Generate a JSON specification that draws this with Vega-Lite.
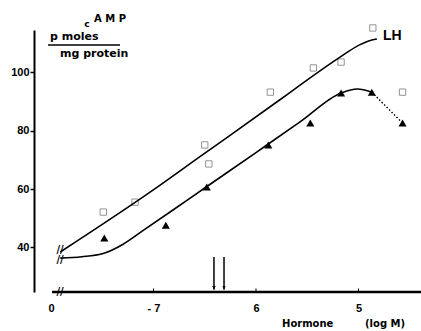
{
  "$schema": "https://vega.github.io/schema/vega-lite/v6.json",
  "width": 387,
  "height": 262,
  "autosize": {"type": "none"},
  "padding": {"left": 34, "top": 30, "right": 0, "bottom": 39},
  "background": "white",
  "config": {"view": {"stroke": null}, "font": "DejaVu Sans"},
  "datasets": {
    "lh": [
      {"logM": -7.49, "camp": 52.1},
      {"logM": -7.18, "camp": 55.5},
      {"logM": -6.50, "camp": 75.1},
      {"logM": -6.46, "camp": 68.6},
      {"logM": -5.86, "camp": 93.2},
      {"logM": -5.44, "camp": 101.5},
      {"logM": -5.17, "camp": 103.5},
      {"logM": -4.86, "camp": 115.2},
      {"logM": -4.57, "camp": 93.2}
    ],
    "tri": [
      {"logM": -7.48, "camp": 43.2},
      {"logM": -6.88, "camp": 47.6},
      {"logM": -6.48, "camp": 60.7},
      {"logM": -5.88, "camp": 75.1},
      {"logM": -5.47, "camp": 82.6},
      {"logM": -5.17, "camp": 92.9},
      {"logM": -4.87, "camp": 93.2},
      {"logM": -4.57, "camp": 82.6}
    ],
    "curves": [
      {"series": "LH", "logM": -7.91, "camp": 38.4},
      {"series": "LH", "logM": -7.03, "camp": 59.0},
      {"series": "LH", "logM": -6.55, "camp": 71.0},
      {"series": "LH", "logM": -5.77, "camp": 90.5},
      {"series": "LH", "logM": -5.57, "camp": 95.6},
      {"series": "LH", "logM": -5.18, "camp": 105.2},
      {"series": "LH", "logM": -4.99, "camp": 109.4},
      {"series": "LH", "logM": -4.87, "camp": 111.1},
      {"series": "LH", "logM": -4.82, "camp": 111.4},
      {"series": "other", "logM": -7.91, "camp": 36.3},
      {"series": "other", "logM": -7.70, "camp": 36.8},
      {"series": "other", "logM": -7.50, "camp": 37.8},
      {"series": "other", "logM": -7.30, "camp": 41.0},
      {"series": "other", "logM": -7.10, "camp": 45.8},
      {"series": "other", "logM": -6.81, "camp": 52.8},
      {"series": "other", "logM": -6.50, "camp": 60.35},
      {"series": "other", "logM": -6.00, "camp": 72.5},
      {"series": "other", "logM": -5.57, "camp": 83.0},
      {"series": "other", "logM": -5.17, "camp": 92.9},
      {"series": "other", "logM": -5.01, "camp": 94.3},
      {"series": "other", "logM": -4.87, "camp": 93.2}
    ],
    "dotted": [
      {"logM": -4.87, "camp": 93.2},
      {"logM": -4.57, "camp": 82.6}
    ],
    "ticks": [{"logM": -7}, {"logM": -6}, {"logM": -5}],
    "arrows": [{"logM": -6.41}, {"logM": -6.312}],
    "breaks": [
      {"logM": -7.912, "camp": 24.7},
      {"logM": -7.912, "camp": 39.0},
      {"logM": -7.912, "camp": 35.5}
    ]
  },
  "layer": [
    {
      "data": {"name": "lh"},
      "mark": {"type": "point", "shape": "square", "filled": false, "stroke": "#666666", "strokeWidth": 1, "size": 40},
      "encoding": {
        "x": {
          "field": "logM", "type": "quantitative",
          "scale": {"domain": [-8.166, -4.39], "nice": false, "zero": false},
          "axis": {
            "title": null, "values": [-8, -7, -6, -5], "domain": false, "ticks": false, "tickSize": 0, "grid": false,
            "labelExpr": "datum.value == -8 ? '0' : datum.value == -7 ? '- 7' : datum.value == -6 ? '6' : '5'",
            "labelFont": "Liberation Sans", "labelFontWeight": "bold", "labelFontSize": 11, "labelColor": "black", "labelPadding": 10
          }
        },
        "y": {
          "field": "camp", "type": "quantitative",
          "scale": {"domain": [24.7, 114.5], "nice": false, "zero": false},
          "axis": {
            "title": null, "values": [40, 60, 80, 100], "grid": false,
            "domainWidth": 2, "domainColor": "black", "tickColor": "black", "tickSize": 4, "tickWidth": 1.5,
            "labelFont": "Liberation Sans", "labelFontWeight": "bold", "labelFontSize": 11, "labelColor": "black", "labelPadding": 1
          }
        }
      }
    },
    {
      "data": {"name": "tri"},
      "mark": {"type": "point", "shape": "triangle-up", "filled": true, "color": "black", "opacity": 1, "size": 65},
      "encoding": {
        "x": {"field": "logM", "type": "quantitative"},
        "y": {"field": "camp", "type": "quantitative"}
      }
    },
    {
      "data": {"name": "curves"},
      "mark": {"type": "line", "interpolate": "monotone", "color": "black", "strokeWidth": 1.6},
      "encoding": {
        "x": {"field": "logM", "type": "quantitative"},
        "y": {"field": "camp", "type": "quantitative"},
        "detail": {"field": "series"}
      }
    },
    {
      "data": {"name": "dotted"},
      "mark": {"type": "line", "color": "black", "strokeWidth": 1.4, "strokeDash": [1.5, 2]},
      "encoding": {
        "x": {"field": "logM", "type": "quantitative"},
        "y": {"field": "camp", "type": "quantitative"}
      }
    },
    {
      "data": {"values": [{}]},
      "mark": {"type": "rule", "color": "black", "strokeWidth": 2.5},
      "encoding": {
        "x": {"datum": -7.99, "type": "quantitative"},
        "x2": {"datum": -4.39},
        "y": {"datum": 24.7, "type": "quantitative"}
      }
    },
    {
      "data": {"name": "ticks"},
      "mark": {"type": "rule", "color": "black", "strokeWidth": 1},
      "encoding": {
        "x": {"field": "logM", "type": "quantitative"},
        "y": {"datum": 24.7, "type": "quantitative"},
        "y2": {"datum": 25.9}
      }
    },
    {
      "data": {"name": "arrows"},
      "mark": {"type": "rule", "color": "black", "strokeWidth": 1.5},
      "encoding": {
        "x": {"field": "logM", "type": "quantitative"},
        "y": {"datum": 25.5, "type": "quantitative"},
        "y2": {"datum": 36.7}
      }
    },
    {
      "data": {"name": "arrows"},
      "mark": {"type": "point", "shape": "triangle-down", "filled": true, "color": "black", "opacity": 1, "size": 12},
      "encoding": {
        "x": {"field": "logM", "type": "quantitative"},
        "y": {"datum": 26.2, "type": "quantitative"}
      }
    },
    {
      "data": {"name": "breaks"},
      "mark": {"type": "text", "text": "//", "font": "DejaVu Sans", "fontSize": 10, "fontWeight": "bold", "align": "center", "baseline": "middle", "color": "black"},
      "encoding": {
        "x": {"field": "logM", "type": "quantitative"},
        "y": {"field": "camp", "type": "quantitative"}
      }
    },
    {
      "data": {"values": [{}]},
      "mark": {"type": "text", "text": "c", "font": "DejaVu Sans", "fontSize": 9, "fontWeight": "bold", "align": "center", "baseline": "middle", "color": "black"},
      "encoding": {
        "x": {"datum": -7.649, "type": "quantitative"},
        "y": {"datum": 116.6, "type": "quantitative"}
      }
    },
    {
      "data": {"values": [{}]},
      "mark": {"type": "text", "text": "A M P", "font": "DejaVu Sans", "fontSize": 10, "fontWeight": "bold", "align": "center", "baseline": "middle", "color": "black"},
      "encoding": {
        "x": {"datum": -7.424, "type": "quantitative"},
        "y": {"datum": 118.3, "type": "quantitative"}
      }
    },
    {
      "data": {"values": [{}]},
      "mark": {"type": "text", "text": "p moles", "font": "DejaVu Sans", "fontSize": 11, "fontWeight": "bold", "align": "left", "baseline": "alphabetic", "color": "black"},
      "encoding": {
        "x": {"datum": -8.01, "type": "quantitative"},
        "y": {"datum": 111.07, "type": "quantitative"}
      }
    },
    {
      "data": {"values": [{}]},
      "mark": {"type": "rule", "color": "black", "strokeWidth": 1.3},
      "encoding": {
        "x": {"datum": -8.029, "type": "quantitative"},
        "x2": {"datum": -7.327},
        "y": {"datum": 109.36, "type": "quantitative"}
      }
    },
    {
      "data": {"values": [{}]},
      "mark": {"type": "text", "text": "mg protein", "font": "DejaVu Sans", "fontSize": 11, "fontWeight": "bold", "align": "left", "baseline": "alphabetic", "color": "black"},
      "encoding": {
        "x": {"datum": -7.912, "type": "quantitative"},
        "y": {"datum": 105.25, "type": "quantitative"}
      }
    },
    {
      "data": {"values": [{}]},
      "mark": {"type": "text", "text": "LH", "font": "Liberation Sans", "fontSize": 14, "fontWeight": "bold", "align": "left", "baseline": "alphabetic", "color": "black"},
      "encoding": {
        "x": {"datum": -4.761, "type": "quantitative"},
        "y": {"datum": 111.07, "type": "quantitative"}
      }
    },
    {
      "data": {"values": [{}]},
      "mark": {"type": "text", "text": "Hormone", "font": "DejaVu Sans", "fontSize": 10, "fontWeight": "bold", "align": "left", "baseline": "alphabetic", "color": "black"},
      "encoding": {
        "x": {"datum": -5.746, "type": "quantitative"},
        "y": {"datum": 12.7, "type": "quantitative"}
      }
    },
    {
      "data": {"values": [{}]},
      "mark": {"type": "text", "text": "(log M)", "font": "DejaVu Sans", "fontSize": 10, "fontWeight": "bold", "align": "left", "baseline": "alphabetic", "color": "black"},
      "encoding": {
        "x": {"datum": -4.936, "type": "quantitative"},
        "y": {"datum": 12.7, "type": "quantitative"}
      }
    }
  ]
}
